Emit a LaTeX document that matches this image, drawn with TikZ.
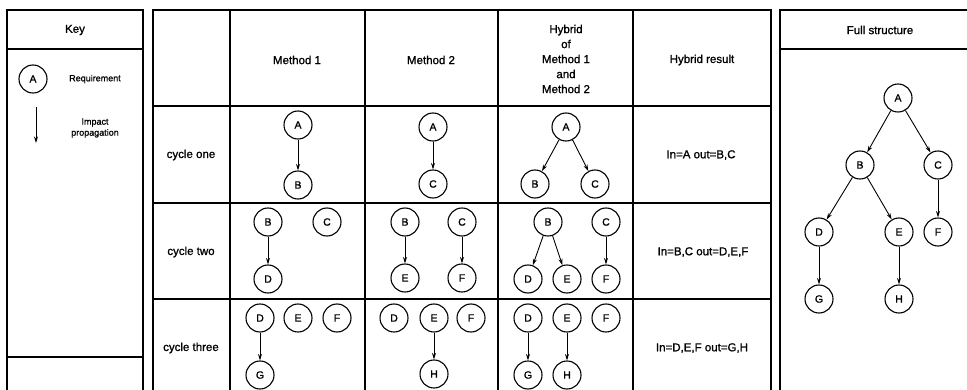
\documentclass[tikz,border=0pt]{standalone}
\usepackage{fontspec}
\setmainfont{Liberation Sans}
\newfontfamily\scanfont{Liberation Sans}[FakeBold=1.2]
\usetikzlibrary{arrows.meta}
\begin{document}
\begin{tikzpicture}[x=1pt,y=-1pt,
  req/.style={circle,draw,line width=1.1pt,minimum size=28pt,inner sep=0pt,font=\scanfont\fontsize{10.5}{12}\selectfont},
  imp/.style={-{Stealth[length=6.5pt,width=4pt]},line width=0.9pt},
  frame/.style={line width=1.2pt},
  lbl/.style={font=\scanfont\fontsize{11.5}{15}\selectfont,align=center,inner sep=0pt},
  small/.style={font=\scanfont\fontsize{9}{11}\selectfont,align=center,inner sep=0pt}]
\useasboundingbox (0,0) rectangle (967,390);
% ---------- Key panel ----------
\draw[frame] (7,390) -- (7,10) -- (143,10) -- (143,390);
\draw[frame] (7,49) -- (143,49);
\draw[frame] (7,357) -- (143,357);
\node[lbl] (keyt) at (75,30) {Key};
\node[req] (keyA) at (33,79) {A};
\node[small] (keyreq) at (95,79) {Requirement};
\coordinate (ka) at (36,107);
\coordinate (kb) at (36,143);
\draw[imp] (ka) -- (kb);
\node[small] (keyimp) at (95,128) {Impact\\propagation};
% ---------- Main table ----------
\draw[frame] (153,390) -- (153,10) -- (771,10) -- (771,390);
\foreach \x in {230,365,498,633} \draw[frame] (\x,10) -- (\x,390);
\foreach \y in {106,203,299} \draw[frame] (153,\y) -- (771,\y);
\node[lbl] (h1) at (297,60) {Method 1};
\node[lbl] (h2) at (431,60) {Method 2};
\node[lbl] (h3) at (566,59) {Hybrid\\of\\Method 1\\and\\Method 2};
\node[lbl] (h4) at (702,60) {Hybrid result};
\node[lbl] (r1) at (191,155) {cycle one};
\node[lbl] (r2) at (191,252) {cycle two};
\node[lbl] (r3) at (191,348) {cycle three};
\node[lbl] (t1) at (701,155) {In=A out=B,C};
\node[lbl] (t2) at (703,252) {In=B,C out=D,E,F};
\node[lbl] (t3) at (702,348) {In=D,E,F out=G,H};
% cycle one
\node[req] (a1A) at (298,125) {A};
\node[req] (a1B) at (298,185) {B};
\draw[imp] (a1A) -- (a1B);
\node[req] (a2A) at (433,127) {A};
\node[req] (a2C) at (433,184) {C};
\draw[imp] (a2A) -- (a2C);
\node[req] (a3A) at (566,127) {A};
\node[req] (a3B) at (535,184) {B};
\node[req] (a3C) at (595,184) {C};
\draw[imp] (a3A) -- (a3B);
\draw[imp] (a3A) -- (a3C);
% cycle two
\node[req] (b1B) at (268,222) {B};
\node[req] (b1C) at (327,222) {C};
\node[req] (b1D) at (268,279) {D};
\draw[imp] (b1B) -- (b1D);
\node[req] (b2B) at (405,222) {B};
\node[req] (b2C) at (462,222) {C};
\node[req] (b2E) at (405,278) {E};
\node[req] (b2F) at (462,278) {F};
\draw[imp] (b2B) -- (b2E);
\draw[imp] (b2C) -- (b2F);
\node[req] (b3B) at (548,222) {B};
\node[req] (b3C) at (606,222) {C};
\node[req] (b3D) at (528,279) {D};
\node[req] (b3E) at (567,279) {E};
\node[req] (b3F) at (606,279) {F};
\draw[imp] (b3B) -- (b3D);
\draw[imp] (b3B) -- (b3E);
\draw[imp] (b3C) -- (b3F);
% cycle three
\node[req] (c1D) at (260,318) {D};
\node[req] (c1E) at (298,318) {E};
\node[req] (c1F) at (337,318) {F};
\node[req] (c1G) at (260,375) {G};
\draw[imp] (c1D) -- (c1G);
\node[req] (c2D) at (394,318) {D};
\node[req] (c2E) at (434,318) {E};
\node[req] (c2F) at (471,318) {F};
\node[req] (c2H) at (434,374) {H};
\draw[imp] (c2E) -- (c2H);
\node[req] (c3D) at (528,318) {D};
\node[req] (c3E) at (567,318) {E};
\node[req] (c3F) at (606,318) {F};
\node[req] (c3G) at (528,375) {G};
\node[req] (c3H) at (567,375) {H};
\draw[imp] (c3D) -- (c3G);
\draw[imp] (c3E) -- (c3H);
% ---------- Full structure ----------
\draw[frame] (780,390) -- (780,10) -- (967,10);
\draw[frame] (780,49) -- (967,49);
\node[lbl] (fst) at (880,30) {Full structure};
\node[req] (fA) at (898,98) {A};
\node[req] (fB) at (860,165) {B};
\node[req] (fC) at (938,165) {C};
\node[req] (fD) at (819,232) {D};
\node[req] (fE) at (899,232) {E};
\node[req] (fF) at (938,232) {F};
\node[req] (fG) at (819,299) {G};
\node[req] (fH) at (899,299) {H};
\draw[imp] (fA) -- (fB);
\draw[imp] (fA) -- (fC);
\draw[imp] (fB) -- (fD);
\draw[imp] (fB) -- (fE);
\draw[imp] (fC) -- (fF);
\draw[imp] (fD) -- (fG);
\draw[imp] (fE) -- (fH);
\end{tikzpicture}
\end{document}
